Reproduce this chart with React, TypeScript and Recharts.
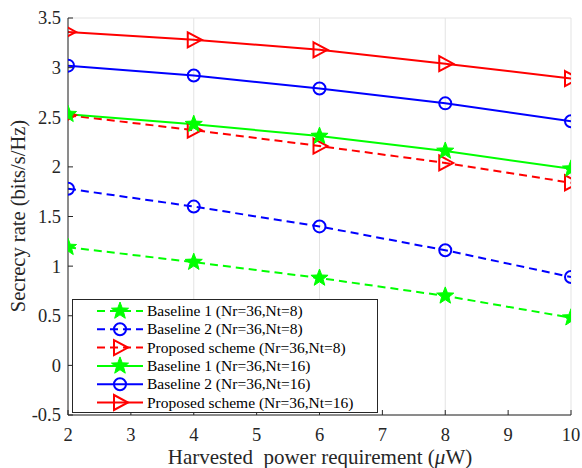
import { CartesianGrid, Legend, Line, LineChart, XAxis, YAxis } from "recharts";

const powers = [2, 4, 6, 8, 10];
const xTicks = [2, 3, 4, 5, 6, 7, 8, 9, 10];
const yTicks = [-0.5, 0, 0.5, 1, 1.5, 2, 2.5, 3, 3.5];

const baseline1Nt8 = [1.19, 1.04, 0.88, 0.7, 0.48];
const baseline2Nt8 = [1.78, 1.6, 1.4, 1.16, 0.89];
const proposedNt8 = [2.52, 2.37, 2.21, 2.04, 1.84];
const baseline1Nt16 = [2.53, 2.43, 2.31, 2.16, 1.98];
const baseline2Nt16 = [3.02, 2.92, 2.79, 2.64, 2.46];
const proposedNt16 = [3.36, 3.28, 3.18, 3.04, 2.89];

const data = powers.map((p, i) => ({
  p,
  b1n8: baseline1Nt8[i],
  b2n8: baseline2Nt8[i],
  pn8: proposedNt8[i],
  b1n16: baseline1Nt16[i],
  b2n16: baseline2Nt16[i],
  pn16: proposedNt16[i],
}));

const FONT = "Liberation Serif";
const AXIS = "#262626";

type Marker = "star" | "circle" | "tri";

const series: { key: string; name: string; color: string; dashed: boolean; marker: Marker }[] = [
  { key: "b1n8", name: "Baseline 1 (Nr=36,Nt=8)", color: "#00ff00", dashed: true, marker: "star" },
  { key: "b2n8", name: "Baseline 2 (Nr=36,Nt=8)", color: "#0000ff", dashed: true, marker: "circle" },
  { key: "pn8", name: "Proposed scheme (Nr=36,Nt=8)", color: "#ff0000", dashed: true, marker: "tri" },
  { key: "b1n16", name: "Baseline 1 (Nr=36,Nt=16)", color: "#00ff00", dashed: false, marker: "star" },
  { key: "b2n16", name: "Baseline 2 (Nr=36,Nt=16)", color: "#0000ff", dashed: false, marker: "circle" },
  { key: "pn16", name: "Proposed scheme (Nr=36,Nt=16)", color: "#ff0000", dashed: false, marker: "tri" },
];

function starPath(cx: number, cy: number, R: number, r: number) {
  let d = "";
  for (let i = 0; i < 10; i++) {
    const rad = i % 2 === 0 ? R : r;
    const a = -Math.PI / 2 + (i * Math.PI) / 5;
    d += (i === 0 ? "M" : "L") + (cx + rad * Math.cos(a)).toFixed(2) + "," + (cy + rad * Math.sin(a)).toFixed(2);
  }
  return d + "Z";
}

function drawMarker(marker: Marker, color: string, cx: number, cy: number, key?: string) {
  if (marker === "star") {
    return <path key={key} d={starPath(cx, cy, 9, 3.8)} fill={color} stroke={color} strokeWidth={1} />;
  }
  if (marker === "circle") {
    return <circle key={key} cx={cx} cy={cy} r={6} fill="none" stroke={color} strokeWidth={2} />;
  }
  return (
    <path
      key={key}
      d={`M${cx - 6},${cy - 7.5}L${cx + 8},${cy}L${cx - 6},${cy + 7.5}Z`}
      fill="none"
      stroke={color}
      strokeWidth={2}
    />
  );
}

const makeDot = (marker: Marker, color: string) => (props: any) => {
  const { cx, cy, key } = props;
  if (cx == null || cy == null) return <g key={key} />;
  return drawMarker(marker, color, cx, cy, key);
};

const noTick = () => <g />;

const xTick = (props: any) => (
  <text x={props.x} y={props.y} dy="0.71em" textAnchor="middle" fontFamily={FONT} fontSize={18.5} fill={AXIS}>
    {props.payload.value}
  </text>
);

const yTick = (props: any) => (
  <text x={props.x} y={props.y} dy="0.35em" textAnchor="end" fontFamily={FONT} fontSize={18.5} fill={AXIS}>
    {props.payload.value}
  </text>
);

// legend drawn as its own little svg, MATLAB-style boxed legend
function LegendBox() {
  const rowH = 18.3;
  return (
    <svg width={306} height={114} style={{ display: "block" }}>
      <rect x={0.5} y={0.5} width={305} height={113} fill="#fff" stroke={AXIS} strokeWidth={1} />
      {series.map((s, i) => {
        const y = 12 + i * rowH;
        return (
          <g key={s.key}>
            <line
              x1={25}
              x2={71}
              y1={y}
              y2={y}
              stroke={s.color}
              strokeWidth={2}
              strokeDasharray={s.dashed ? "8 5" : undefined}
            />
            {drawMarker(s.marker, s.color, 48, y)}
            <text x={75} y={y + 5} fontFamily={FONT} fontSize={15.5} fill="#000">
              {s.name}
            </text>
          </g>
        );
      })}
    </svg>
  );
}

const xLabel = () => (
  <text x={320} y={464} textAnchor="middle" fontFamily={FONT} fontSize={21} fill={AXIS}>
    Harvested{"\u00a0"} power requirement (<tspan fontStyle="italic">μ</tspan>W)
  </text>
);

const yLabel = () => (
  <text
    x={0}
    y={0}
    transform="translate(25,216) rotate(-90)"
    textAnchor="middle"
    fontFamily={FONT}
    fontSize={20.5}
    fill={AXIS}
  >
    Secrecy rate (bits/s/Hz)
  </text>
);

export default function App() {
  return (
    <div style={{ position: "absolute", left: 0, top: 0, background: "#fff" }}>
      <LineChart width={582} height={468} data={data} margin={{ top: 18, right: 11, bottom: 0, left: 0 }}>
        <CartesianGrid stroke="#e3e3e3" strokeWidth={1} />
        <XAxis
          xAxisId="b"
          dataKey="p"
          type="number"
          domain={[2, 10]}
          ticks={xTicks}
          height={53}
          stroke={AXIS}
          tick={xTick}
          tickSize={-5}
          tickMargin={18}
          label={xLabel}
          allowDataOverflow
        />
        <XAxis
          xAxisId="t"
          orientation="top"
          dataKey="p"
          type="number"
          domain={[2, 10]}
          ticks={xTicks}
          height={0}
          stroke={AXIS}
          tick={noTick}
          tickSize={-5}
        />
        <YAxis
          yAxisId="l"
          type="number"
          domain={[-0.5, 3.5]}
          ticks={yTicks}
          width={68}
          stroke={AXIS}
          tick={yTick}
          tickSize={-5}
          tickMargin={12}
          label={yLabel}
          allowDataOverflow
        />
        <YAxis
          yAxisId="r"
          orientation="right"
          type="number"
          domain={[-0.5, 3.5]}
          ticks={yTicks}
          width={0}
          stroke={AXIS}
          tick={noTick}
          tickSize={-5}
        />
        {series.map((s) => (
          <Line
            key={s.key}
            xAxisId="b"
            yAxisId="l"
            dataKey={s.key}
            name={s.name}
            stroke={s.color}
            strokeWidth={2}
            strokeDasharray={s.dashed ? "8 5" : undefined}
            dot={makeDot(s.marker, s.color)}
            activeDot={false}
            isAnimationActive={false}
          />
        ))}
        <Legend
          layout="horizontal"
          verticalAlign="middle"
          align="center"
          content={() => <LegendBox />}
          wrapperStyle={{ left: 72, top: 299, width: 306, height: 114 }}
        />
      </LineChart>
    </div>
  );
}
